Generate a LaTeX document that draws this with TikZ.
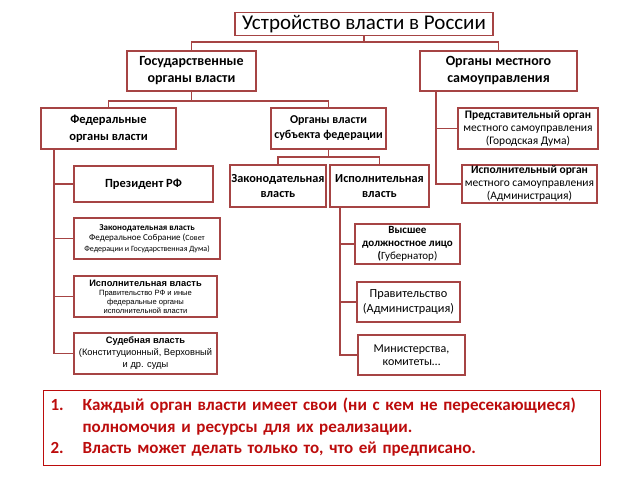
\documentclass[tikz,border=0pt]{standalone}
\usepackage{fontspec}
\setmainfont{Carlito}
\newfontfamily\arialf{Liberation Sans}
\newfontfamily\notefont[WordSpace=0.8]{Carlito}
\definecolor{boxred}{RGB}{166,68,68}
\definecolor{notered}{RGB}{188,12,12}
\newcommand{\fs}[2]{\fontsize{#1}{#2}\selectfont}

\begin{document}
\begin{tikzpicture}[x=1pt,y=-1pt,
  box/.style={draw=boxred,line width=1.6pt,align=center,inner sep=1pt},
  link/.style={draw=boxred,line width=1.6pt}]
\useasboundingbox (0,0) rectangle (638,479);
\node[box,minimum width=258pt,minimum height=23pt,font=\fs{21}{22}] (title) at (364,24) {Устройство власти в России};
\node[box,minimum width=129pt,minimum height=40pt,font=\bfseries\fs{14}{17}] (gos) at (191.5,71) {Государственные\\органы власти};
\node[box,minimum width=157pt,minimum height=40pt,font=\bfseries\fs{14}{17}] (loc) at (498.5,71) {Органы местного\\самоуправления};
\node[box,minimum width=135pt,minimum height=41pt,font=\bfseries\fs{12.5}{17}] (fed) at (108.5,128.5) {Федеральные\\органы власти};
\node[box,minimum width=115pt,minimum height=41pt,font=\bfseries\fs{12}{15}] (subj) at (328.5,128.5) {Органы власти\\субъекта федерации};
\node[box,minimum width=140pt,minimum height=41pt,font=\fs{11.5}{13}] (predst) at (528,128.5) {\textbf{Представительный орган}\\местного самоуправления\\(Городская Дума)};
\node[box,minimum width=135pt,minimum height=38pt,font=\fs{11.5}{13}] (ispOrg) at (529.5,184) {\textbf{Исполнительный орган}\\местного самоуправления\\(Администрация)};
\node[box,minimum width=139pt,minimum height=36pt,font=\bfseries\fs{12.5}{15}] (pres) at (143.5,184) {Президент РФ};
\node[box,minimum width=146pt,minimum height=41pt,font=\fs{9}{10.5}] (zakF) at (147,238.5) {\textbf{Законодательная власть}\\Федеральное Собрание ({\fs{8}{10.5}Совет}\\{\fs{8}{10.5}Федерации и Государственная Дума)}};
\node[box,minimum width=143pt,minimum height=41pt,font=\arialf\fs{7.6}{9}] (ispF) at (145.5,296.5) {{\bfseries\fs{9.3}{11}Исполнительная власть}\\Правительство РФ и иные\\федеральные органы\\исполнительной власти};
\node[box,minimum width=143pt,minimum height=41pt,font=\arialf\fs{9.3}{12}] (sud) at (145.5,353.5) {{\bfseries\fs{9.3}{12}Судебная власть}\\(Конституционный, Верховный\\и др. суды};
\node[box,minimum width=96pt,minimum height=42pt,font=\bfseries\fs{12.3}{15}] (zakS) at (278,186) {Законодательная\\власть};
\node[box,minimum width=99pt,minimum height=42pt,font=\bfseries\fs{12.3}{15}] (ispS) at (379.5,186) {Исполнительная\\власть};
\node[box,minimum width=105pt,minimum height=40pt,font=\fs{11}{13}] (vyssh) at (407.5,244) {\textbf{Высшее}\\\textbf{должностное лицо}\\\textbf{(}Губернатор)};
\node[box,minimum width=103pt,minimum height=40pt,font=\fs{12.3}{15}] (prav) at (408.5,302) {Правительство\\(Администрация)};
\node[box,minimum width=107pt,minimum height=40pt,font=\fs{12}{13}] (min) at (411.5,355) {Министерства,\\комитеты…};
\node[draw=notered,line width=1.2pt,anchor=north west,text width=543pt,inner xsep=7pt,minimum height=75pt,text=notered,font=\notefont\bfseries\fs{17}{21.5}] (note) at (43,390)
  {\begin{tabular}{@{}p{32pt}@{}l@{}}1.&Каждый орган власти имеет свои (ни с кем не пересекающиеся)\\&полномочия и ресурсы для их реализации.\\2.&Власть может делать только то, что ей предписано.\end{tabular}};
\coordinate (j1) at (364,42); \coordinate (j2) at (191.5,101); \coordinate (j3) at (328.5,157);
\draw[link] (title.south) -- (j1); \draw[link] (gos.north) |- (j1) -| (loc.north);
\draw[link] (gos.south) -- (j2); \draw[link] (fed.north) |- (j2) -| (subj.north);
\draw[link] (subj.south) -- (j3); \draw[link] (zakS.north) |- (j3) -| (ispS.north);
\coordinate (fb) at (54,0); \coordinate (sb) at (340,0); \coordinate (lb) at (436,0);
\draw[link] (fed.south -| fb) |- (sud.west);
\foreach \n in {pres,zakF,ispF} \draw[link] (\n.west) -- (\n.west -| fb);
\draw[link] (ispS.south -| sb) |- (min.west);
\foreach \n in {vyssh,prav} \draw[link] (\n.west) -- (\n.west -| sb);
\draw[link] (loc.south -| lb) |- (ispOrg.west); \draw[link] (predst.west) -- (predst.west -| lb);
\end{tikzpicture}
\end{document}
